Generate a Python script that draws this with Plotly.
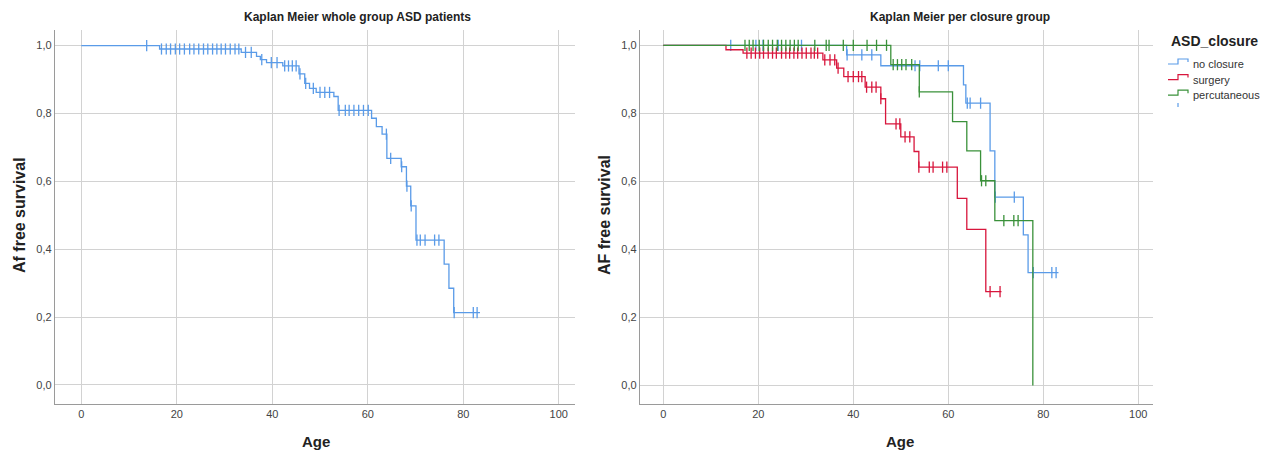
import numpy as np
import plotly.graph_objects as go

# ---------------- data ----------------
# Whole group (left)
all_event_t = [16.4, 33.5, 36.7, 37.5, 38.8, 42.2, 45.6, 46.8, 47.8, 49.2, 52.9, 53.8,
               60.8, 61.8, 63.0, 64.0, 67.0, 68.1, 69.0, 70.1, 76.0, 77.0, 78.0]
all_event_s = [0.990, 0.980, 0.968, 0.959, 0.950, 0.940, 0.917, 0.889, 0.874, 0.862, 0.850, 0.809,
               0.786, 0.761, 0.739, 0.668, 0.643, 0.586, 0.528, 0.427, 0.356, 0.285, 0.213]
all_end = 83.5
all_censor_t = [13.7, 16.8, 17.8, 18.7, 19.7, 20.6, 21.6, 22.7, 23.6, 24.6, 25.6, 26.5, 27.5,
                28.4, 29.3, 30.2, 31.2, 32.2, 33.0, 34.4, 35.6, 37.8, 39.8, 41.0, 42.6, 43.4,
                44.2, 45.0, 45.8, 47.0, 48.6, 50.0, 51.0, 52.0, 54.0, 55.3, 56.1, 57.1, 58.1,
                59.1, 60.1, 63.9, 64.8, 67.1, 68.2, 69.1, 70.3, 71.0, 72.0, 74.0, 74.9, 78.1,
                82.1, 82.9]

# Per closure group (right)
groups = ["no closure", "surgery", "percutaneous"]
none_event_t = [38.6, 45.8, 63.2, 63.7, 68.8, 69.8, 75.8, 76.8]
none_event_s = [0.972, 0.940, 0.884, 0.830, 0.690, 0.554, 0.443, 0.332]
none_end = 83.2
none_censor_t = [14.2, 19.5, 21.0, 24.2, 29.1, 38.7, 41.8, 43.9, 53.0, 54.0, 57.9, 60.0,
                 64.0, 64.6, 66.8, 69.9, 73.9, 77.9, 81.8, 82.7]

surg_event_t = [13.2, 16.8, 33.6, 36.5, 38.0, 42.5, 45.8, 46.8, 50.0, 52.8, 53.8, 61.9, 63.9, 67.9]
surg_event_s = [0.987, 0.977, 0.957, 0.933, 0.908, 0.877, 0.843, 0.769, 0.731, 0.688, 0.642,
                0.550, 0.459, 0.276]
surg_end = 71.2
surg_censor_t = [17.6, 18.5, 19.4, 20.3, 21.1, 22.1, 23.0, 23.8, 24.9, 25.8, 26.6, 27.5, 28.3,
                 29.2, 30.1, 31.1, 31.8, 32.5, 34.0, 35.1, 36.1, 36.8, 38.9, 40.0, 41.1, 41.8,
                 42.8, 43.9, 44.8, 45.8, 49.0, 49.8, 50.9, 51.9, 53.8, 56.0, 56.8, 58.8, 59.7,
                 68.8, 70.9]

perc_event_t = [47.9, 53.9, 60.9, 63.9, 66.8, 69.8, 77.8]
perc_event_s = [0.943, 0.863, 0.776, 0.690, 0.602, 0.485, 0.0]
perc_end = 77.8
perc_censor_t = [17.2, 18.1, 18.9, 20.2, 21.1, 22.1, 23.0, 24.0, 24.9, 25.8, 26.7, 27.6, 28.4,
                 31.9, 34.3, 34.9, 37.9, 40.0, 42.9, 44.9, 47.0, 48.4, 49.3, 50.2, 51.1, 52.3,
                 53.9, 67.0, 67.9, 71.7, 73.8, 74.7]

x_ticks = [0, 20, 40, 60, 80, 100]
y_ticks = [0.0, 0.2, 0.4, 0.6, 0.8, 1.0]

# ---------------- style ----------------
C_ALL = "#5a9be8"
C_NONE = "#5a9be8"
C_SURG = "#d8163c"
C_PERC = "#3a913a"
FONT = "Arial, 'Liberation Sans', sans-serif"
OFF = 8  # default page body margin
W, H = 1272 - OFF, 455 - OFF


def xp(px):
    return (px - OFF) / W


def yp(py):
    return 1 - (py - OFF) / H


def step_xy(et, es, end):
    x = [0.0] + list(et) + [end]
    y = [1.0] + list(es) + [es[-1]]
    return x, y


def surv_at(et, es, t):
    et = np.asarray(et)
    es = np.asarray(es)
    i = np.searchsorted(et, np.asarray(t), side="right")
    s = np.concatenate([[1.0], es])
    return s[i]


fig = go.Figure()


def add_group(et, es, end, ct, color, name, xa, ya):
    x, y = step_xy(et, es, end)
    fig.add_trace(go.Scatter(x=x, y=y, mode="lines", line=dict(color=color, width=1.3, shape="hv"),
                             name=name, showlegend=False, xaxis=xa, yaxis=ya, hoverinfo="skip"))
    fig.add_trace(go.Scatter(x=ct, y=surv_at(et, es, ct), mode="markers",
                             marker=dict(symbol="line-ns", size=8,
                                         line=dict(color=color, width=1.3)),
                             showlegend=False, xaxis=xa, yaxis=ya, hoverinfo="skip"))


add_group(all_event_t, all_event_s, all_end, all_censor_t, C_ALL, "all", "x", "y")
add_group(none_event_t, none_event_s, none_end, none_censor_t, C_NONE, groups[0], "x2", "y2")
add_group(surg_event_t, surg_event_s, surg_end, surg_censor_t, C_SURG, groups[1], "x2", "y2")
add_group(perc_event_t, perc_event_s, perc_end, perc_censor_t, C_PERC, groups[2], "x2", "y2")

axis_common = dict(showgrid=True, gridcolor="#d2d2d2", gridwidth=1.4, showline=True,
                   linecolor="#9a9a9a", linewidth=1.4, zeroline=False, ticks="",
                   tickfont=dict(family=FONT, size=11, color="#444"))
ydom = [yp(404), yp(30)]
fig.update_layout(
    width=W, height=H, margin=dict(l=0, r=0, t=0, b=0),
    paper_bgcolor="white", plot_bgcolor="white", separators=",.",
    showlegend=False,
    xaxis=dict(domain=[xp(55), xp(575)], range=[-5.5, 103.4], tickvals=x_ticks, anchor="y", **axis_common),
    yaxis=dict(domain=ydom, range=[-0.056, 1.046], tickvals=y_ticks, tickformat=".1f", anchor="x", **axis_common),
    xaxis2=dict(domain=[xp(640), xp(1153)], range=[-4.9, 103.1], tickvals=x_ticks, anchor="y2", **axis_common),
    yaxis2=dict(domain=ydom, range=[-0.054, 1.045], tickvals=y_ticks, tickformat=".1f", anchor="x2", **axis_common),
)

ann = []
def text(x, y, s, size, bold=False, color="#222", angle=0, xanchor="center"):
    ann.append(dict(x=xp(x), y=yp(y), xref="paper", yref="paper", text=f"<b>{s}</b>" if bold else s,
                    showarrow=False, font=dict(family=FONT, size=size, color=color), textangle=angle,
                    xanchor=xanchor, yanchor="middle"))

text(358, 17, "Kaplan Meier whole group ASD patients", 12, bold=True)
text(960, 17, "Kaplan Meier per closure group", 12, bold=True)
text(19, 215, "Af free survival", 16, bold=True, angle=-90)
text(604, 215, "AF free survival", 16, bold=True, angle=-90)
text(316, 441, "Age", 15, bold=True)
text(900, 441, "Age", 15, bold=True)
# manual legend
text(1169, 41, "ASD_closure", 14, bold=True, xanchor="left")
shapes = []
for i, (g, c) in enumerate(zip(groups, [C_NONE, C_SURG, C_PERC])):
    cy = 64 + i * 15.6
    text(1191, cy, g, 11, color="#333", xanchor="left")
    path = (f"M {xp(1168)} {yp(cy)} L {xp(1178)} {yp(cy)} L {xp(1178)} {yp(cy-5)} "
            f"L {xp(1188)} {yp(cy-5)} L {xp(1188)} {yp(cy-2)}")
    shapes.append(dict(type="path", path=path, xref="paper", yref="paper",
                       line=dict(color=c, width=1.2)))
shapes.append(dict(type="line", xref="paper", yref="paper", x0=xp(1178), x1=xp(1178),
                   y0=yp(103), y1=yp(107), line=dict(color=C_NONE, width=1.2)))
fig.update_layout(annotations=ann, shapes=shapes)

fig.write_html("out.html")
